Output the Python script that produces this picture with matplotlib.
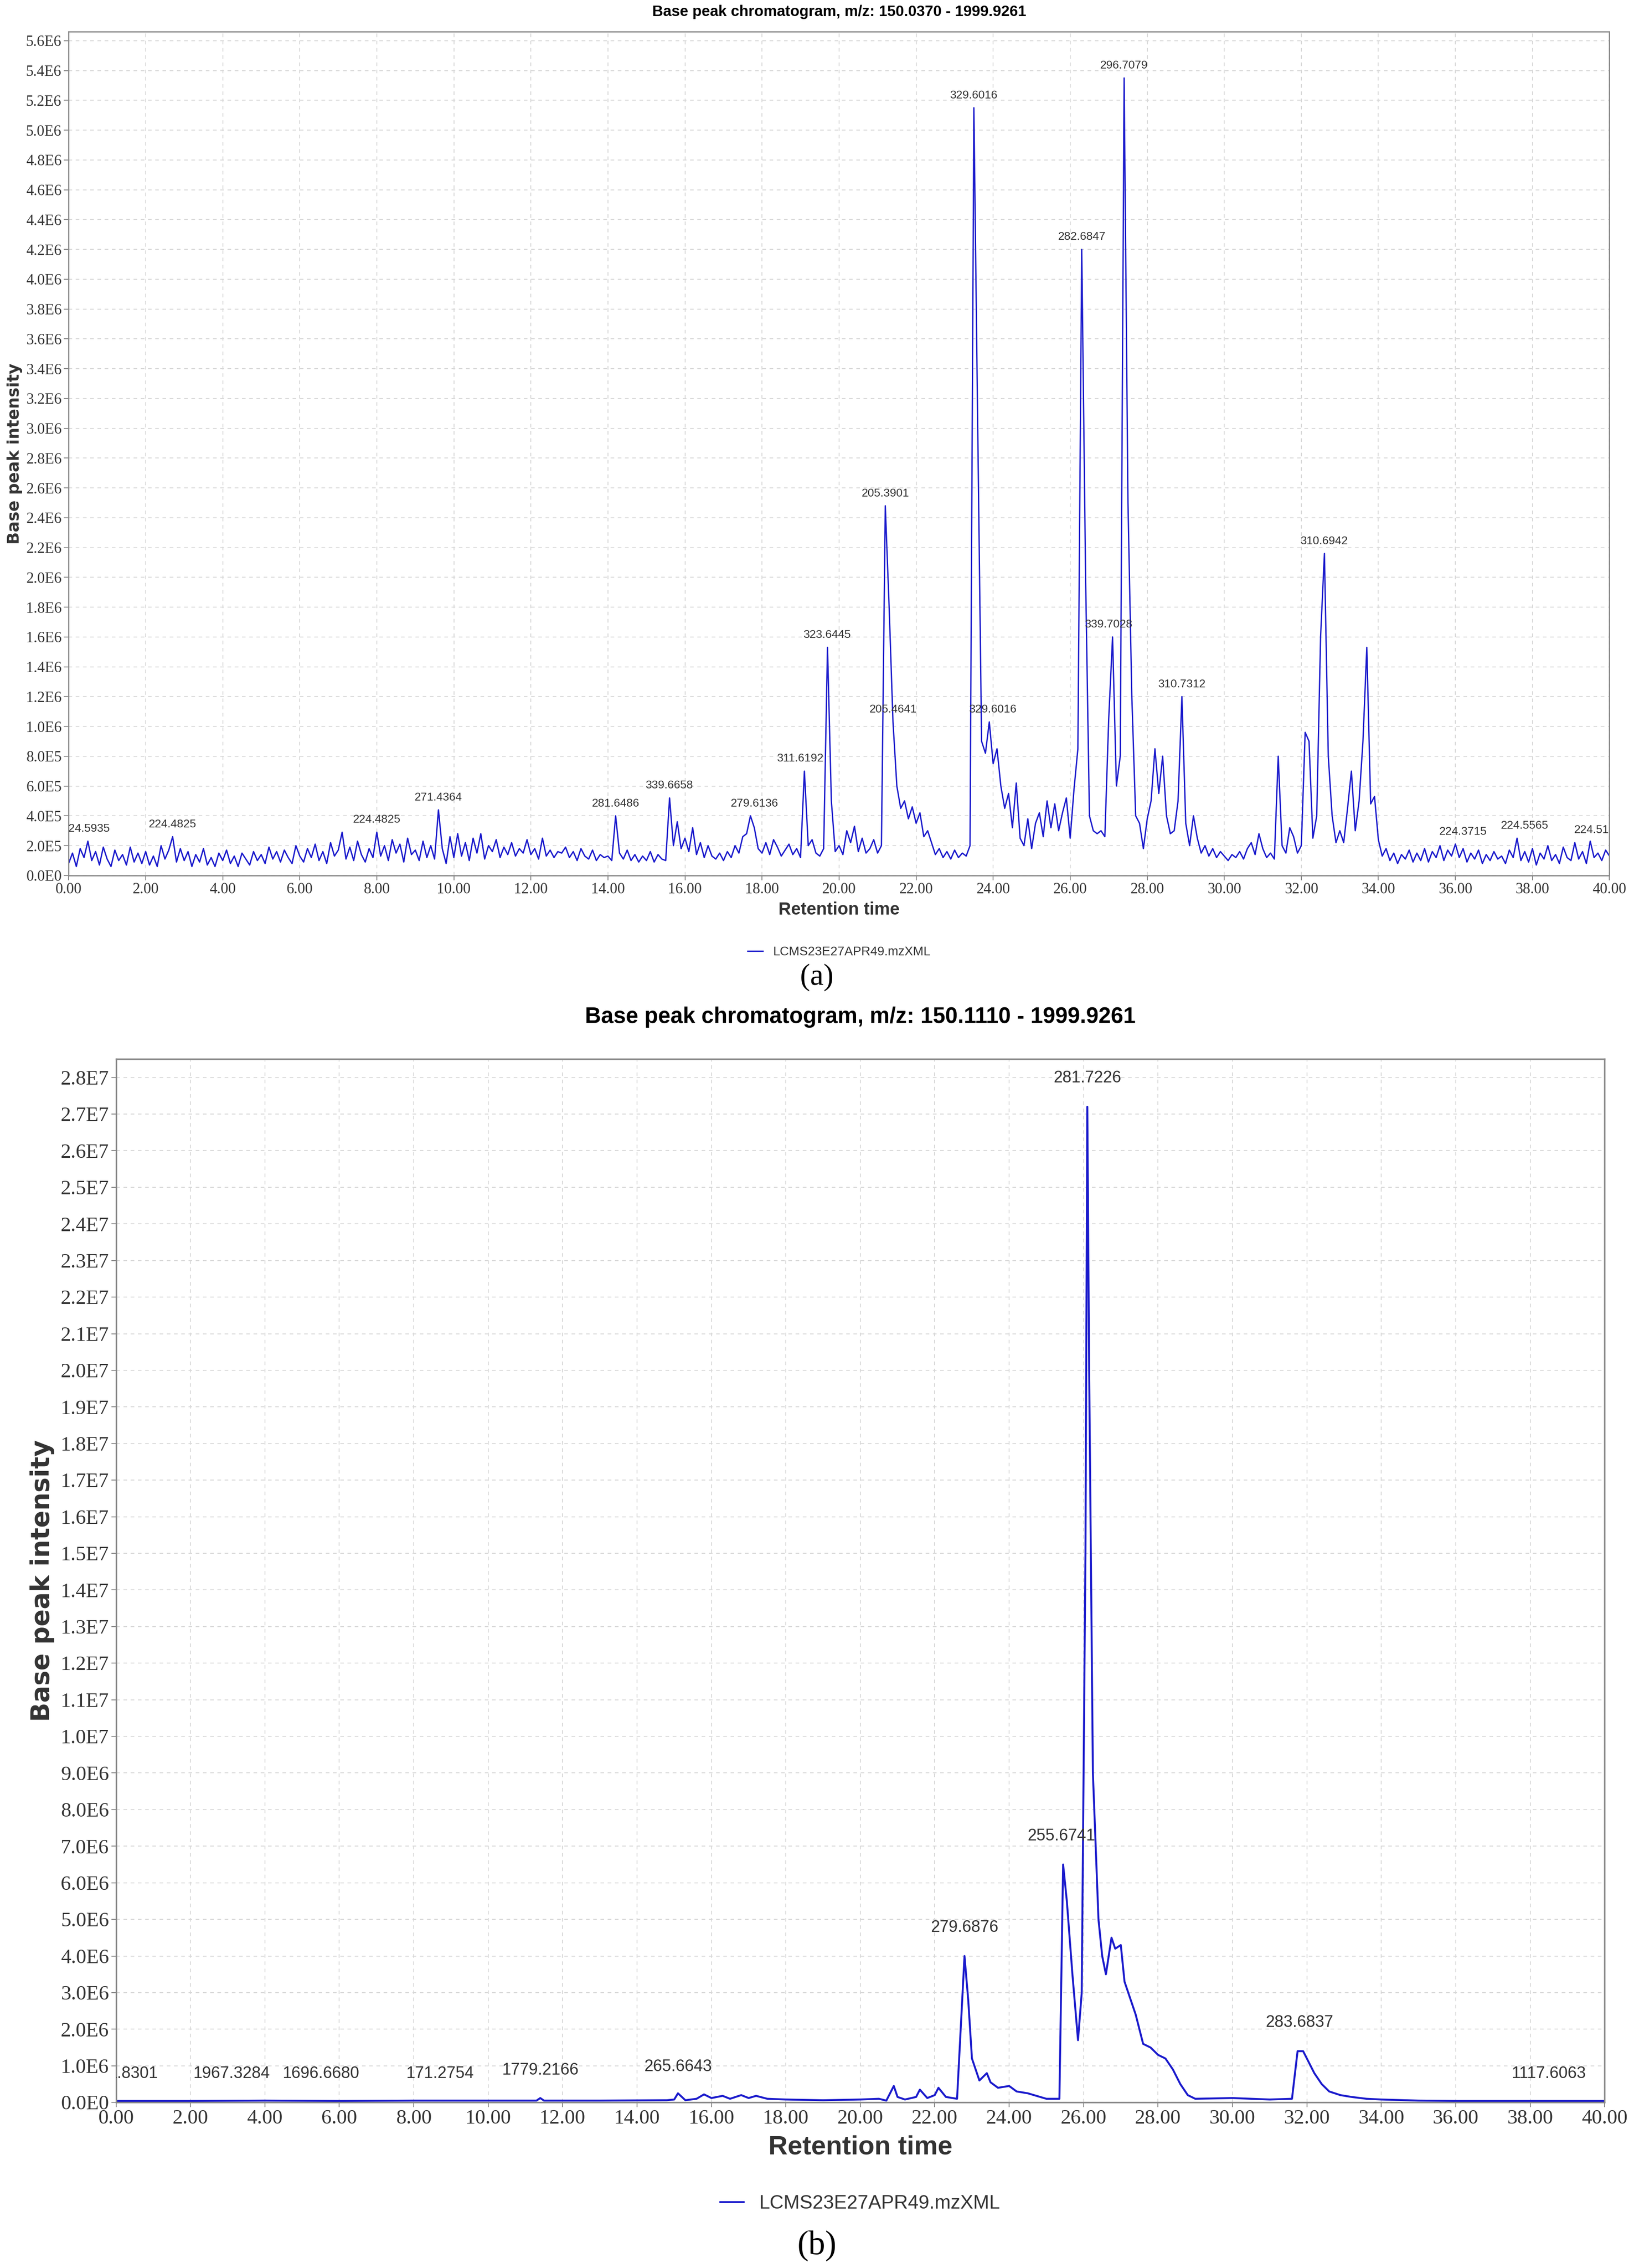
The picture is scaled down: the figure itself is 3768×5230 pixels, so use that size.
import numpy as np
import matplotlib
matplotlib.use("Agg")
import matplotlib.pyplot as plt
from matplotlib.ticker import FixedLocator, FuncFormatter

# ---------- Panel (a) data: intensity (x1e5) every 0.1 min ----------
a_rows = [
 [0.8,1.5,0.6,1.8,1.2,2.3,1.0,1.6,0.7,1.9],
 [1.1,0.6,1.7,1.0,1.4,0.7,1.9,0.9,1.5,0.8],
 [1.6,0.7,1.3,0.6,2.0,1.1,1.7,2.6,0.9,1.8],
 [1.0,1.6,0.6,1.4,0.9,1.8,0.7,1.2,0.6,1.5],
 [1.0,1.7,0.8,1.3,0.6,1.5,1.1,0.7,1.6,1.0],
 [1.4,0.8,1.9,1.1,1.6,0.9,1.7,1.2,0.8,2.0],
 [1.3,0.9,1.8,1.2,2.1,1.0,1.6,0.8,2.2,1.3],
 [1.7,2.9,1.1,1.9,1.0,2.3,1.4,0.9,1.8,1.2],
 [2.9,1.3,2.0,1.0,2.4,1.5,2.1,0.9,2.5,1.4],
 [1.7,1.0,2.3,1.2,2.0,1.1,4.4,1.8,0.8,2.6],
 [1.2,2.8,1.3,2.2,1.0,2.5,1.5,2.8,1.1,2.0],
 [1.6,2.4,1.2,1.9,1.4,2.2,1.3,1.8,1.5,2.4],
 [1.4,1.8,1.1,2.5,1.3,1.7,1.2,1.6,1.5,1.9],
 [1.2,1.6,1.0,1.8,1.3,1.1,1.7,1.0,1.4,1.2],
 [1.3,1.0,4.0,1.5,1.1,1.7,1.0,1.4,0.9,1.3],
 [1.0,1.6,0.9,1.4,1.1,1.0,5.2,2.0,3.6,1.8],
 [2.5,1.6,3.2,1.4,2.2,1.2,2.0,1.3,1.1,1.5],
 [1.0,1.6,1.2,2.0,1.5,2.6,2.8,4.0,3.2,1.8],
 [1.5,2.2,1.4,2.4,1.9,1.3,1.7,2.1,1.4,1.8],
 [1.2,7.0,2.0,2.4,1.5,1.3,1.8,15.3,5.0,1.6],
 [2.0,1.4,3.0,2.2,3.3,1.6,2.5,1.5,1.8,2.4],
 [1.5,2.0,24.8,18.0,10.3,6.0,4.5,5.0,3.8,4.6],
 [3.5,4.2,2.6,3.0,2.2,1.4,1.8,1.2,1.6,1.1],
 [1.7,1.2,1.5,1.3,2.0,51.5,30.0,9.0,8.2,10.3],
 [7.5,8.5,6.0,4.5,5.5,3.2,6.2,2.5,2.0,3.8],
 [1.8,3.5,4.2,2.6,5.0,3.2,4.8,3.0,4.2,5.2],
 [2.5,5.8,8.5,42.0,20.0,4.0,3.0,2.8,3.0,2.6],
 [10.5,16.0,6.0,8.0,53.5,25.0,12.0,4.0,3.5,1.8],
 [3.8,5.0,8.5,5.5,8.0,4.0,2.8,3.0,5.0,12.0],
 [3.5,2.0,4.0,2.5,1.5,2.0,1.3,1.8,1.2,1.6],
 [1.3,1.0,1.4,1.2,1.6,1.1,1.8,2.2,1.4,2.8],
 [1.8,1.2,1.5,1.1,8.0,2.0,1.5,3.2,2.6,1.5],
 [2.0,9.6,9.0,2.5,4.0,16.0,21.6,8.0,4.0,2.2],
 [3.0,2.2,4.5,7.0,3.0,5.0,9.0,15.3,4.8,5.3],
 [2.4,1.3,1.8,1.0,1.5,0.8,1.4,1.1,1.7,0.9],
 [1.5,1.0,1.8,0.9,1.6,1.2,2.0,1.0,1.7,1.3],
 [2.1,1.2,1.8,0.9,1.5,1.1,1.7,0.8,1.4,1.0],
 [1.6,1.1,1.3,0.8,1.7,1.2,2.5,1.0,1.6,0.9],
 [1.8,0.7,1.5,1.1,2.0,1.0,1.4,0.8,1.9,1.2],
 [1.0,2.2,1.1,1.6,0.8,2.3,1.2,1.5,1.0,1.7],
 [1.3],
]
a_vals = [v for r in a_rows for v in r]
a_times = [i / 10 for i in range(len(a_vals))]

a_ann_x = [0.45, 2.7, 8.0, 9.6, 14.2, 15.6, 17.8, 19.0, 19.7, 21.2, 21.4, 23.5, 24.0, 26.3, 27.0, 27.4, 28.9, 32.6, 36.2, 37.8, 39.7]
a_ann_y = [2.3, 2.6, 2.9, 4.4, 4.0, 5.2, 4.0, 7.0, 15.3, 24.8, 10.3, 51.5, 10.3, 42.0, 16.0, 53.5, 12.0, 21.6, 2.1, 2.5, 2.2]
a_ann_t = ["224.5935", "224.4825", "224.4825", "271.4364", "281.6486", "339.6658", "279.6136", "311.6192",
           "323.6445", "205.3901", "205.4641", "329.6016", "329.6016", "282.6847", "339.7028", "296.7079",
           "310.7312", "310.6942", "224.3715", "224.5565", "224.5190"]

# ---------- Panel (b) data: intensity (x1e6) ----------
b_times = [0, 2, 4, 6, 8, 10, 11.3, 11.4, 11.5, 13, 14.8, 15.0, 15.1, 15.3, 15.6, 15.8, 16.0, 16.3, 16.5, 16.8, 17.0,
           17.2, 17.5, 18.0, 19.0, 20.0, 20.5, 20.7, 20.9, 21.0, 21.2, 21.5, 21.6, 21.8, 22.0, 22.1, 22.3, 22.6, 22.8,
           22.9, 23.0, 23.2, 23.4, 23.5, 23.7, 24.0, 24.2, 24.5, 25.0, 25.35, 25.45, 25.55, 25.7, 25.85, 25.95,
           26.05, 26.1, 26.15, 26.25, 26.4, 26.5, 26.6, 26.75, 26.85, 27.0, 27.1, 27.2, 27.4, 27.6, 27.8, 28.0,
           28.2, 28.4, 28.6, 28.8, 29.0, 30.0, 31.0, 31.6, 31.75, 31.9, 32.0, 32.2, 32.4, 32.6, 32.9, 33.2, 33.6,
           34.0, 35.0, 36.0, 40.0]
b_vals = [0.04, 0.04, 0.05, 0.04, 0.05, 0.05, 0.05, 0.12, 0.05, 0.05, 0.06, 0.08, 0.25, 0.06, 0.10, 0.22, 0.12,
          0.18, 0.10, 0.20, 0.12, 0.18, 0.10, 0.08, 0.06, 0.08, 0.10, 0.05, 0.45, 0.15, 0.08, 0.15, 0.35, 0.12, 0.20,
          0.40, 0.15, 0.10, 4.00, 2.80, 1.20, 0.60, 0.80, 0.55, 0.40, 0.45, 0.30, 0.25, 0.10, 0.10, 6.50, 5.50,
          3.50, 1.70, 3.00, 15.0, 27.2, 20.0, 9.0, 5.0, 4.0, 3.5, 4.5, 4.2, 4.3, 3.3, 3.0, 2.4, 1.6, 1.5, 1.3,
          1.2, 0.9, 0.5, 0.2, 0.10, 0.12, 0.08, 0.10, 1.40, 1.40, 1.20, 0.80, 0.50, 0.30, 0.20, 0.15, 0.10,
          0.08, 0.05, 0.04, 0.04]

b_ann_x = [0.45, 3.1, 5.5, 8.7, 11.4, 15.1, 22.8, 25.4, 26.1, 31.8, 38.5]
b_ann_y = [0.5, 0.5, 0.5, 0.5, 0.6, 0.7, 4.5, 7.0, 27.7, 1.9, 0.5]
b_ann_t = ["1.8301", "1967.3284", "1696.6680", "171.2754", "1779.2166", "265.6643", "279.6876",
           "255.6741", "281.7226", "283.6837", "1117.6063"]

BLUE = "#1a1acc"
plt.rcParams['font.family'] = ['Liberation Sans Narrow', 'Liberation Sans', 'DejaVu Sans']

fig = plt.figure(figsize=(37.68, 52.30), dpi=100)


def fmt_a(v, _):
    if abs(v) < 1e-9:
        return "0.0E0"
    if v < 1e6 - 1:
        return f"{v/1e5:.1f}E5"
    return f"{v/1e6:.1f}E6"


def fmt_b(v, _):
    if abs(v) < 1e-9:
        return "0.0E0"
    if v < 1e7 - 1:
        return f"{v/1e6:.1f}E6"
    return f"{v/1e7:.1f}E7"


def style(ax, tick_fs, yticks, fmt, lw_frame):
    ax.set_xlim(0, 40)
    ax.xaxis.set_major_locator(FixedLocator(np.arange(0, 40.1, 2)))
    ax.xaxis.set_major_formatter(FuncFormatter(lambda v, _: f"{v:.2f}"))
    ax.yaxis.set_major_locator(FixedLocator(yticks))
    ax.yaxis.set_major_formatter(FuncFormatter(fmt))
    ax.grid(True, color="#d8d8d8", linestyle=(0, (4, 4)), linewidth=1.5)
    ax.set_axisbelow(True)
    for lab in ax.get_xticklabels() + ax.get_yticklabels():
        lab.set_family(['Liberation Serif', 'DejaVu Serif'])
        lab.set_fontsize(tick_fs)
        lab.set_color("#333333")
    for s in ax.spines.values():
        s.set_color("#888888")
        s.set_linewidth(lw_frame)
    ax.tick_params(length=8, width=1.5, color="#888888")


# ---- panel a ----
ax1 = fig.add_axes([0.042, 0.614, 0.943, 0.372])
ax1.plot(a_times, [v * 1e5 for v in a_vals], color=BLUE, lw=2.2, label="LCMS23E27APR49.mzXML")
ax1.set_ylim(0, 5.66e6)
style(ax1, 25, np.arange(0, 5.61e6, 2e5), fmt_a, 2)
for x, y, t in zip(a_ann_x, a_ann_y, a_ann_t):
    ax1.annotate(t, (x, y * 1e5), xytext=(0, 12), textcoords="offset points", ha="center", va="bottom",
                 fontsize=19, color="#333333", clip_on=True)
ax1.set_xlabel("Retention time", fontsize=29, fontweight="bold", color="#333333", labelpad=8)
ax1.set_ylabel("Base peak intensity", fontsize=27, fontweight="bold", color="#333333",
               family=['DejaVu Sans'], labelpad=6)
ax1.set_title("Base peak chromatogram, m/z: 150.0370 - 1999.9261", fontsize=25, fontweight="bold", pad=26)
ax1.legend(loc="upper center", bbox_to_anchor=(0.5, -0.07), frameon=False, fontsize=21,
           handlelength=1.2, labelcolor="#333333")
fig.text(0.5, 0.569, "(a)", ha="center", va="center", fontsize=50, family=['Liberation Serif'])

# ---- panel b ----
ax2 = fig.add_axes([0.071, 0.073, 0.911, 0.460])
ax2.plot(b_times, [v * 1e6 for v in b_vals], color=BLUE, lw=3.2, label="LCMS23E27APR49.mzXML")
ax2.set_ylim(0, 2.85e7)
style(ax2, 34, np.arange(0, 2.81e7, 1e6), fmt_b, 2.5)
for x, y, t in zip(b_ann_x, b_ann_y, b_ann_t):
    ax2.annotate(t, (x, y * 1e6), xytext=(0, 4), textcoords="offset points", ha="center", va="bottom",
                 fontsize=27, color="#333333", clip_on=True)
ax2.set_xlabel("Retention time", fontsize=44, fontweight="bold", color="#333333", labelpad=12)
ax2.set_ylabel("Base peak intensity", fontsize=42, fontweight="bold", color="#333333",
               family=['DejaVu Sans'], labelpad=10)
ax2.set_title("Base peak chromatogram, m/z: 150.1110 - 1999.9261", fontsize=37, fontweight="bold", pad=60)
ax2.legend(loc="upper center", bbox_to_anchor=(0.5, -0.072), frameon=False, fontsize=32,
           handlelength=1.2, labelcolor="#333333")
fig.text(0.5, 0.0096, "(b)", ha="center", va="center", fontsize=56, family=['Liberation Serif'])

fig.savefig("out.png", dpi=100, facecolor="white")
